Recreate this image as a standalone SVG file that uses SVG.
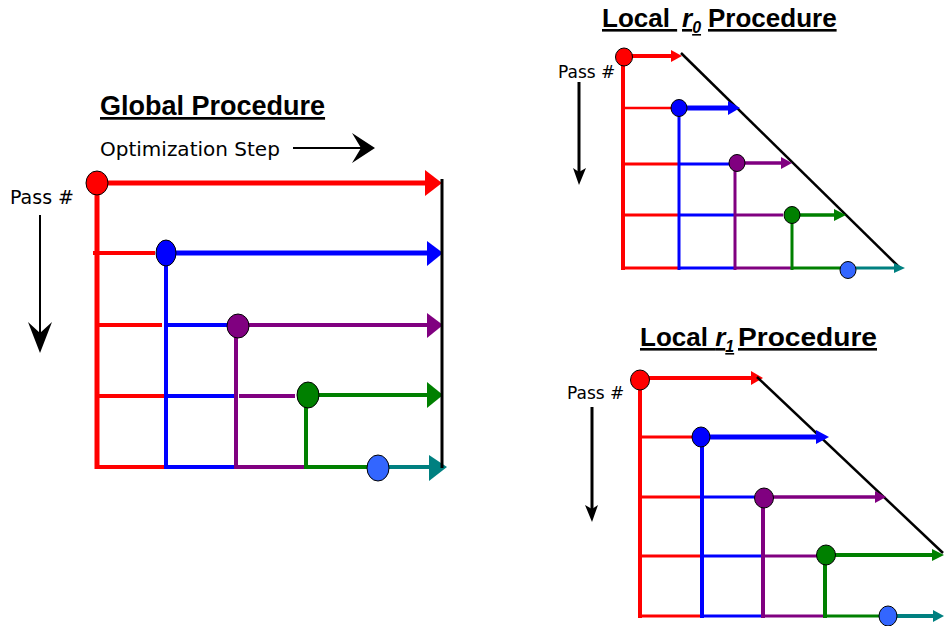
<svg xmlns="http://www.w3.org/2000/svg" width="944" height="626" viewBox="0 0 944 626">
<style>
.ttl{font-family:"Liberation Sans",Arial,sans-serif;font-weight:bold;font-size:26px;fill:#000;text-decoration:underline}
.it{font-style:italic}
.sub{font-style:italic;font-size:16px}
.lbl{font-family:"DejaVu Sans",Verdana,sans-serif;fill:#000}
.r{stroke:#ff0000;fill:none}
.b{stroke:#0000ff;fill:none}
.p{stroke:#800080;fill:none}
.g{stroke:#008000;fill:none}
.t{stroke:#008080;fill:none}
.k{stroke:#000;fill:none}
.hr{fill:#ff0000}
.hb{fill:#0000ff}
.hp{fill:#800080}
.hg{fill:#008000}
.ht{fill:#008080}
.hk{fill:#000}
.node{stroke:#000;stroke-width:1}
.nr{fill:#ff0000}
.nb{fill:#0000ff}
.np{fill:#800080}
.ng{fill:#008000}
.nl{fill:#3366ff}
</style>

<!-- Global panel -->
<g id="global">
  <text class="ttl" x="100" y="115" style="font-size:27px">Global Procedure</text>
  <text class="lbl" x="100" y="156" font-size="20">Optimization Step</text>
  <text class="lbl" x="10" y="204" font-size="19">Pass #</text>
  <g id="global-axes">
    <path class="k" d="M293,148 H362" stroke-width="2"/>
    <polygon class="hk" points="352,133 375,148 352,163 361,148"/>
    <path class="k" d="M40,215 V334" stroke-width="2"/>
    <polygon class="hk" points="28,322 40,353 52,322 40,333"/>
  </g>
  <g id="global-connectors">
    <path class="r" d="M97,183 H426" stroke-width="5"/>
    <polygon class="hr" points="425,170 442,183 425,196"/>
    <path class="r" d="M97,183 V469" stroke-width="5"/>
    <path class="r" d="M93,253 H155 M97,325 H162 M97,396 H165 M95,467 H166" stroke-width="4"/>
    <path class="b" d="M166,253 H428" stroke-width="5"/>
    <polygon class="hb" points="427,241 443,253 427,266"/>
    <path class="b" d="M166,253 V469" stroke-width="4"/>
    <path class="b" d="M166,325 H228 M166,396 H235 M166,467 H236" stroke-width="4"/>
    <path class="p" d="M238,325 H428" stroke-width="4"/>
    <polygon class="hp" points="427,313 443,325 427,338"/>
    <path class="p" d="M236,326 V469" stroke-width="4"/>
    <path class="p" d="M239,396 H295 M236,467 H306" stroke-width="4"/>
    <path class="g" d="M308,395 H428" stroke-width="4"/>
    <polygon class="hg" points="427,382 443,395 427,408"/>
    <path class="g" d="M306,395 V469" stroke-width="4"/>
    <path class="g" d="M306,467 H372" stroke-width="4"/>
    <path class="t" d="M386,467 H431" stroke-width="4"/>
    <polygon class="ht" points="429,455 447,467 429,481"/>
    <path class="k" d="M442,179 V468" stroke-width="3"/>
  </g>
  <g id="g-n1"><ellipse class="node nr" cx="97" cy="183" rx="11" ry="12"/></g>
  <g id="g-n2"><ellipse class="node nb" cx="166" cy="253" rx="10" ry="13"/></g>
  <g id="g-n3"><ellipse class="node np" cx="238" cy="326" rx="11" ry="12"/></g>
  <g id="g-n4"><ellipse class="node ng" cx="308" cy="395" rx="11" ry="13"/></g>
  <g id="g-n5"><ellipse class="node nl" cx="378" cy="468" rx="11" ry="13"/></g>
</g>

<!-- Local r0 panel -->
<g id="local-r0">
  <text class="ttl" x="602" y="27">Local <tspan class="it" x="682">r</tspan><tspan class="sub" dy="6">0</tspan><tspan dy="-6" x="708">Procedure</tspan></text>
  <text class="lbl" x="558" y="78" font-size="17">Pass #</text>
  <g id="r0-axes">
    <path class="k" d="M579,82 V172" stroke-width="3"/>
    <polygon class="hk" points="573,168 579,185 586,168 579,172"/>
  </g>
  <g id="r0-connectors">
    <path class="r" d="M624,56 H674" stroke-width="4"/>
    <polygon class="hr" points="671,50 682,56 671,62"/>
    <path class="k" d="M681,53 L900,268" stroke-width="2.5"/>
    <path class="r" d="M623,57 V270" stroke-width="4"/>
    <path class="r" d="M621,108 H676" stroke-width="2.5"/>
    <path class="r" d="M623,164 H679 M623,215 H679 M623,268 H679" stroke-width="3"/>
    <path class="b" d="M679,108 H730" stroke-width="5"/>
    <polygon class="hb" points="728,101 740,108 728,115"/>
    <path class="b" d="M679,108 V270" stroke-width="3"/>
    <path class="b" d="M679,164 H735 M679,215 H735 M679,268 H735" stroke-width="3"/>
    <path class="p" d="M737,163 H783" stroke-width="3.5"/>
    <polygon class="hp" points="781,157 792,163 781,169"/>
    <path class="p" d="M735,163 V270" stroke-width="3"/>
    <path class="p" d="M735,215 H783 M735,268 H792" stroke-width="3"/>
    <path class="g" d="M792,215 H836" stroke-width="3.5"/>
    <polygon class="hg" points="834,209 846,215 834,221"/>
    <path class="g" d="M792,215 V270" stroke-width="3"/>
    <path class="g" d="M792,268 H842" stroke-width="3"/>
    <path class="t" d="M856,268 H896" stroke-width="3"/>
    <polygon class="ht" points="894,263 905,268 894,273"/>
  </g>
  <g id="r0-n1"><ellipse class="node nr" cx="624" cy="57" rx="8.5" ry="9"/></g>
  <g id="r0-n2"><ellipse class="node nb" cx="679" cy="108" rx="8" ry="8.5"/></g>
  <g id="r0-n3"><ellipse class="node np" cx="737" cy="163" rx="8" ry="8.5"/></g>
  <g id="r0-n4"><ellipse class="node ng" cx="792" cy="215" rx="8" ry="8.5"/></g>
  <g id="r0-n5"><ellipse class="node nl" cx="848" cy="270" rx="8" ry="8.5"/></g>
</g>

<!-- Local r1 panel -->
<g id="local-r1">
  <text class="ttl" x="640" y="346">Local <tspan class="it">r</tspan><tspan class="sub" dy="6">1</tspan><tspan dy="-6" x="738" textLength="139" lengthAdjust="spacingAndGlyphs">Procedure</tspan></text>
  <text class="lbl" x="567" y="399" font-size="17">Pass #</text>
  <g id="r1-axes">
    <path class="k" d="M592,407 V509" stroke-width="3"/>
    <polygon class="hk" points="585,505 592,522 598,505 592,509"/>
  </g>
  <g id="r1-connectors">
    <path class="r" d="M640,378 H754" stroke-width="4"/>
    <polygon class="hr" points="751,371 763,378 751,385"/>
    <path class="k" d="M757,377 L943,553" stroke-width="2.5"/>
    <path class="r" d="M640,380 V618" stroke-width="4"/>
    <path class="r" d="M640,437 H700 M640,497 H702 M640,556 H702 M640,616 H702" stroke-width="3"/>
    <path class="b" d="M701,437 H819" stroke-width="5"/>
    <polygon class="hb" points="816,430 829,437 816,444"/>
    <path class="b" d="M702,437 V618" stroke-width="4"/>
    <path class="b" d="M702,497 H765 M702,556 H763 M702,616 H763" stroke-width="3"/>
    <path class="p" d="M764,497 H877" stroke-width="3.5"/>
    <polygon class="hp" points="875,491 886,497 875,503"/>
    <path class="p" d="M763,498 V618" stroke-width="4"/>
    <path class="p" d="M763,556 H817 M763,616 H826" stroke-width="3"/>
    <path class="g" d="M826,555 H934" stroke-width="4"/>
    <polygon class="hg" points="932,549 944,555 932,561"/>
    <path class="g" d="M825,555 V618" stroke-width="4"/>
    <path class="g" d="M825,616 H882" stroke-width="3"/>
    <path class="t" d="M896,616 H935" stroke-width="4"/>
    <polygon class="ht" points="933,610 944,616 933,622"/>
  </g>
  <g id="r1-n1"><ellipse class="node nr" cx="640" cy="380" rx="9.5" ry="10"/></g>
  <g id="r1-n2"><ellipse class="node nb" cx="701" cy="437" rx="9" ry="10"/></g>
  <g id="r1-n3"><ellipse class="node np" cx="764" cy="498" rx="9.5" ry="10"/></g>
  <g id="r1-n4"><ellipse class="node ng" cx="826" cy="555" rx="9.5" ry="10"/></g>
  <g id="r1-n5"><ellipse class="node nl" cx="888" cy="616" rx="9" ry="10"/></g>
</g>
</svg>
